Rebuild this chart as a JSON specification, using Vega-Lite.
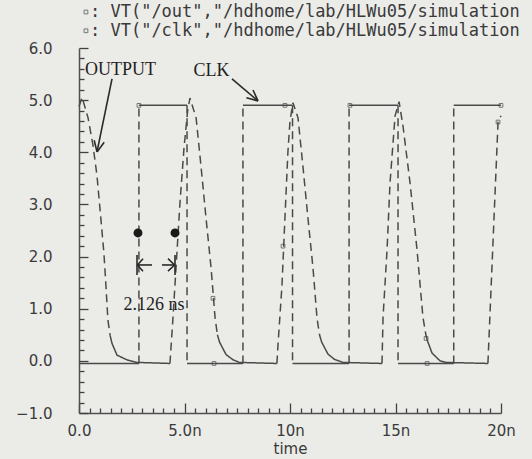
{
  "$schema": "https://vega.github.io/schema/vega-lite/v6.json",
  "width": 422,
  "height": 365,
  "autosize": {"type": "none"},
  "padding": {"left": 79, "top": 48, "right": 31, "bottom": 46},
  "background": "#ebebe8",
  "config": {"view": {"stroke": null}},
  "datasets": {
    "waves": [
      {"g":"c1","k":"s","t":0,"v":-0.05},{"g":"c1","k":"s","t":2.84,"v":-0.05},
      {"g":"c2","k":"d","t":2.84,"v":-0.05},{"g":"c2","k":"d","t":2.84,"v":4.9},
      {"g":"c3","k":"s","t":2.84,"v":4.9},{"g":"c3","k":"s","t":5.12,"v":4.9},
      {"g":"c4","k":"d","t":5.12,"v":4.9},{"g":"c4","k":"d","t":5.12,"v":-0.05},
      {"g":"c5","k":"s","t":5.12,"v":-0.05},{"g":"c5","k":"s","t":7.77,"v":-0.05},
      {"g":"c6","k":"d","t":7.77,"v":-0.05},{"g":"c6","k":"d","t":7.77,"v":4.9},
      {"g":"c7","k":"s","t":7.77,"v":4.9},{"g":"c7","k":"s","t":10.12,"v":4.9},
      {"g":"c8","k":"d","t":10.12,"v":4.9},{"g":"c8","k":"d","t":10.12,"v":-0.05},
      {"g":"c9","k":"s","t":10.12,"v":-0.05},{"g":"c9","k":"s","t":12.8,"v":-0.05},
      {"g":"c10","k":"d","t":12.8,"v":-0.05},{"g":"c10","k":"d","t":12.8,"v":4.9},
      {"g":"c11","k":"s","t":12.8,"v":4.9},{"g":"c11","k":"s","t":15.12,"v":4.9},
      {"g":"c12","k":"d","t":15.12,"v":4.9},{"g":"c12","k":"d","t":15.12,"v":-0.05},
      {"g":"c13","k":"s","t":15.12,"v":-0.05},{"g":"c13","k":"s","t":17.76,"v":-0.05},
      {"g":"c14","k":"d","t":17.76,"v":-0.05},{"g":"c14","k":"d","t":17.76,"v":4.9},
      {"g":"c15","k":"s","t":17.76,"v":4.9},{"g":"c15","k":"s","t":20,"v":4.9},

      {"g":"o1","k":"d","t":0,"v":4.88},{"g":"o1","k":"d","t":0.15,"v":5.05},{"g":"o1","k":"d","t":0.43,"v":4.66},{"g":"o1","k":"d","t":0.66,"v":4.14},{"g":"o1","k":"d","t":0.85,"v":3.56},{"g":"o1","k":"d","t":1.02,"v":2.8},{"g":"o1","k":"d","t":1.18,"v":2.07},{"g":"o1","k":"d","t":1.28,"v":1.42},{"g":"o1","k":"d","t":1.37,"v":0.78},{"g":"o1","k":"d","t":1.48,"v":0.48},
      {"g":"o2","k":"s","t":1.48,"v":0.48},{"g":"o2","k":"s","t":1.56,"v":0.34},{"g":"o2","k":"s","t":1.8,"v":0.11},{"g":"o2","k":"s","t":2.27,"v":0.02},{"g":"o2","k":"s","t":2.75,"v":-0.03},{"g":"o2","k":"s","t":4.31,"v":-0.05},
      {"g":"o3","k":"d","t":4.31,"v":-0.05},{"g":"o3","k":"d","t":4.45,"v":0.8},{"g":"o3","k":"d","t":4.6,"v":1.8},{"g":"o3","k":"d","t":4.78,"v":3.0},{"g":"o3","k":"d","t":4.98,"v":4.1},{"g":"o3","k":"d","t":5.15,"v":4.8},{"g":"o3","k":"d","t":5.26,"v":5.04},{"g":"o3","k":"d","t":5.55,"v":4.66},{"g":"o3","k":"d","t":5.79,"v":3.7},{"g":"o3","k":"d","t":6.02,"v":2.74},{"g":"o3","k":"d","t":6.26,"v":1.78},{"g":"o3","k":"d","t":6.45,"v":0.82},{"g":"o3","k":"d","t":6.56,"v":0.5},
      {"g":"o4","k":"s","t":6.56,"v":0.5},{"g":"o4","k":"s","t":6.66,"v":0.36},{"g":"o4","k":"s","t":6.97,"v":0.12},{"g":"o4","k":"s","t":7.3,"v":0.02},{"g":"o4","k":"s","t":7.6,"v":-0.03},{"g":"o4","k":"s","t":9.38,"v":-0.05},
      {"g":"o5","k":"d","t":9.38,"v":-0.05},{"g":"o5","k":"d","t":9.43,"v":0.3},{"g":"o5","k":"d","t":9.62,"v":1.45},{"g":"o5","k":"d","t":9.76,"v":2.74},{"g":"o5","k":"d","t":9.9,"v":4.0},{"g":"o5","k":"d","t":10.0,"v":4.6},{"g":"o5","k":"d","t":10.14,"v":4.95},{"g":"o5","k":"d","t":10.38,"v":4.66},{"g":"o5","k":"d","t":10.62,"v":3.7},{"g":"o5","k":"d","t":10.85,"v":2.74},{"g":"o5","k":"d","t":11.09,"v":1.78},{"g":"o5","k":"d","t":11.28,"v":0.82},{"g":"o5","k":"d","t":11.4,"v":0.5},
      {"g":"o6","k":"s","t":11.4,"v":0.5},{"g":"o6","k":"s","t":11.5,"v":0.36},{"g":"o6","k":"s","t":11.8,"v":0.13},{"g":"o6","k":"s","t":12.1,"v":0.03},{"g":"o6","k":"s","t":12.51,"v":-0.03},{"g":"o6","k":"s","t":14.36,"v":-0.05},
      {"g":"o7","k":"d","t":14.36,"v":-0.05},{"g":"o7","k":"d","t":14.41,"v":0.84},{"g":"o7","k":"d","t":14.6,"v":2.13},{"g":"o7","k":"d","t":14.74,"v":3.41},{"g":"o7","k":"d","t":14.98,"v":4.7},{"g":"o7","k":"d","t":15.17,"v":4.97},{"g":"o7","k":"d","t":15.36,"v":4.49},{"g":"o7","k":"d","t":15.69,"v":3.41},{"g":"o7","k":"d","t":16.02,"v":2.13},{"g":"o7","k":"d","t":16.3,"v":0.84},{"g":"o7","k":"d","t":16.44,"v":0.5},
      {"g":"o8","k":"s","t":16.44,"v":0.5},{"g":"o8","k":"s","t":16.5,"v":0.4},{"g":"o8","k":"s","t":16.73,"v":0.15},{"g":"o8","k":"s","t":17.11,"v":0.0},{"g":"o8","k":"s","t":17.4,"v":-0.03},{"g":"o8","k":"s","t":19.38,"v":-0.05},
      {"g":"o9","k":"d","t":19.38,"v":-0.05},{"g":"o9","k":"d","t":19.86,"v":4.58},{"g":"o9","k":"d","t":20,"v":4.7}
    ],
    "markers": [
      {"t":2.84,"v":4.9},{"t":6.4,"v":-0.05},{"t":9.76,"v":4.9},{"t":12.84,"v":4.9},{"t":16.5,"v":-0.05},{"t":20,"v":4.9},
      {"t":6.35,"v":1.2},{"t":9.67,"v":2.2},{"t":16.45,"v":0.43},{"t":19.86,"v":4.58},
      {"t":0.33,"v":6.69},{"t":0.33,"v":6.33}
    ],
    "rules": [
      {"t":1.564,"v":5.407,"t2":0.853,"v2":4.007},
      {"t":0.853,"v":4.007,"t2":1.194,"v2":4.191},
      {"t":0.853,"v":4.007,"t2":0.72,"v2":4.231},
      {"t":7.251,"v":5.407,"t2":8.483,"v2":4.985},
      {"t":8.483,"v":4.985,"t2":8.246,"v2":5.194},
      {"t":8.483,"v":4.985,"t2":7.934,"v2":5.044},
      {"t":2.749,"v":2.031,"t2":2.749,"v2":1.648},
      {"t":2.749,"v":1.839,"t2":3.46,"v2":1.839},
      {"t":2.77,"v":1.839,"t2":3.033,"v2":1.96},
      {"t":2.77,"v":1.839,"t2":3.033,"v2":1.72},
      {"t":3.934,"v":1.839,"t2":4.55,"v2":1.839},
      {"t":4.53,"v":1.839,"t2":4.218,"v2":1.96},
      {"t":4.53,"v":1.839,"t2":4.218,"v2":1.72},
      {"t":4.55,"v":2.031,"t2":4.55,"v2":1.648}
    ],
    "dots": [{"t":2.796,"v":2.453},{"t":4.55,"v":2.453}],
    "notes": [
      {"t":1.967,"v":5.58,"txt":"OUTPUT"},
      {"t":6.28,"v":5.56,"txt":"CLK"},
      {"t":3.55,"v":1.07,"txt":"2.126 ns"}
    ],
    "legend": [
      {"t":0.52,"v":6.69,"txt":": VT(\"/out\",\"/hdhome/lab/HLWu05/simulation"},
      {"t":0.52,"v":6.33,"txt":": VT(\"/clk\",\"/hdhome/lab/HLWu05/simulation"}
    ]
  },
  "encoding": {
    "x": {
      "field": "t", "type": "quantitative",
      "scale": {"domain": [0, 20], "nice": false, "zero": false},
      "axis": {
        "values": [0,0.5,1,1.5,2,2.5,3,3.5,4,4.5,5,5.5,6,6.5,7,7.5,8,8.5,9,9.5,10,10.5,11,11.5,12,12.5,13,13.5,14,14.5,15,15.5,16,16.5,17,17.5,18,18.5,19,19.5,20],
        "ticks": true,
        "tickSize": {"condition": {"test": "datum.value % 5 === 0", "value": -10}, "value": -5},
        "labelExpr": "datum.value === 0 ? '0.0' : datum.value === 5 ? '5.0n' : datum.value % 5 === 0 ? datum.value + 'n' : ''",
        "labelFont": "DejaVu Sans", "labelFontSize": 15, "labelColor": "#3a3a3a",
        "labelPadding": 20, "labelOverlap": false, "labelFlush": false,
        "domainColor": "#505050", "domainWidth": 1.5, "tickColor": "#404040", "tickWidth": 1.3,
        "grid": false,
        "title": "time", "titleFont": "DejaVu Sans", "titleFontSize": 15, "titleFontWeight": "normal", "titleColor": "#3a3a3a", "titlePadding": -2
      }
    },
    "y": {
      "field": "v", "type": "quantitative",
      "scale": {"domain": [-1, 6], "nice": false, "zero": false},
      "axis": {
        "values": [-1,-0.8,-0.6,-0.4,-0.2,0,0.2,0.4,0.6,0.8,1,1.2,1.4,1.6,1.8,2,2.2,2.4,2.6,2.8,3,3.2,3.4,3.6,3.8,4,4.2,4.4,4.6,4.8,5,5.2,5.4,5.6,5.8,6],
        "ticks": true,
        "tickSize": {"condition": {"test": "abs(datum.value - round(datum.value)) < 0.01", "value": -9}, "value": -5},
        "labelExpr": "abs(datum.value - round(datum.value)) < 0.01 ? format(datum.value, '.1f') : ''",
        "labelFont": "DejaVu Sans", "labelFontSize": 15, "labelColor": "#3a3a3a",
        "labelPadding": 36, "labelOverlap": false, "labelFlush": false,
        "domainColor": "#505050", "domainWidth": 1.5, "tickColor": "#404040", "tickWidth": 1.3,
        "grid": false, "title": null
      }
    }
  },
  "layer": [
    {
      "data": {"name": "waves"},
      "mark": {"type": "line", "color": "#4a4a4a", "strokeWidth": 1.5},
      "encoding": {
        "detail": {"field": "g"},
        "strokeDash": {"field": "k", "type": "nominal", "scale": {"domain": ["s", "d"], "range": [[1, 0], [8, 5]]}, "legend": null}
      }
    },
    {
      "data": {"name": "markers"},
      "mark": {"type": "point", "shape": "square", "size": 14, "filled": false, "color": "#444444", "strokeWidth": 1}
    },
    {
      "data": {"name": "rules"},
      "mark": {"type": "rule", "color": "#2a2a2a", "strokeWidth": 1.6},
      "encoding": {
        "x2": {"field": "t2"},
        "y2": {"field": "v2"}
      }
    },
    {
      "data": {"name": "dots"},
      "mark": {"type": "circle", "size": 80, "color": "#1a1a1a", "opacity": 1}
    },
    {
      "data": {"name": "notes"},
      "mark": {"type": "text", "font": "Liberation Serif", "fontSize": 18, "color": "#1f1f1f", "baseline": "middle", "align": "center"},
      "encoding": {"text": {"field": "txt"}}
    },
    {
      "data": {"name": "legend"},
      "mark": {"type": "text", "font": "DejaVu Sans Mono", "fontSize": 17, "color": "#3a3a3a", "baseline": "middle", "align": "left"},
      "encoding": {"text": {"field": "txt"}}
    }
  ]
}
